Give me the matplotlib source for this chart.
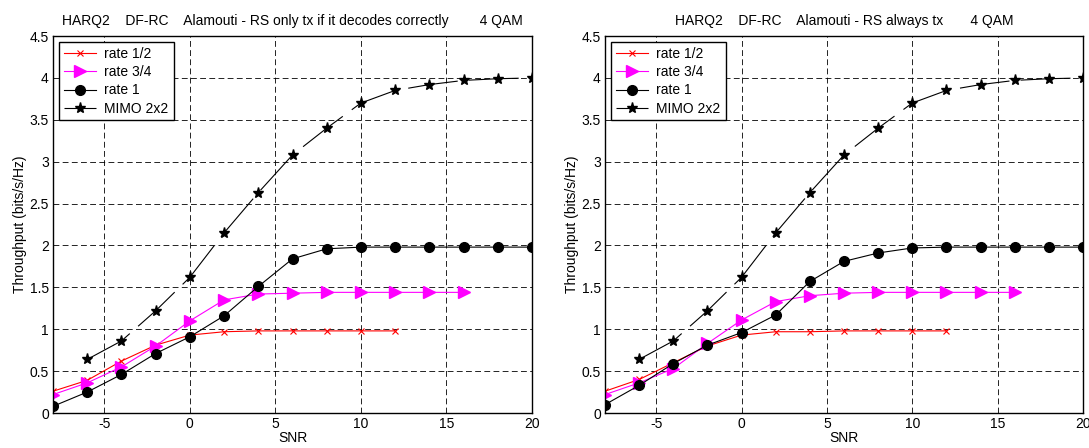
import matplotlib
matplotlib.use("Agg")
import matplotlib.pyplot as plt

plt.rcParams['font.family'] = ['Liberation Sans', 'DejaVu Sans']
plt.rcParams['font.size'] = 10
plt.rcParams['axes.unicode_minus'] = False

# ---------------- data ----------------
snr_r12 = [-8, -6, -4, -2, 0, 2, 4, 6, 8, 10, 12]
snr_r34 = [-8, -6, -4, -2, 0, 2, 4, 6, 8, 10, 12, 14, 16]
snr_r1 = [-8, -6, -4, -2, 0, 2, 4, 6, 8, 10, 12, 14, 16, 18, 20]
snr_mimo = [-6, -4, -2, 0, 2, 4, 6, 8, 10, 12, 14, 16, 18, 20]

left_r12 = [0.26, 0.39, 0.62, 0.81, 0.93, 0.97, 0.98, 0.98, 0.98, 0.98, 0.98]
left_r34 = [0.22, 0.36, 0.55, 0.80, 1.10, 1.35, 1.42, 1.43, 1.44, 1.44, 1.44, 1.44, 1.44]
left_r1 = [0.08, 0.25, 0.46, 0.71, 0.91, 1.16, 1.51, 1.84, 1.96, 1.98, 1.98, 1.98, 1.98, 1.98, 1.98]
left_mimo = [0.64, 0.86, 1.22, 1.62, 2.15, 2.63, 3.08, 3.40, 3.70, 3.85, 3.92, 3.97, 3.99, 4.00]

right_r12 = [0.26, 0.40, 0.60, 0.80, 0.93, 0.97, 0.97, 0.98, 0.98, 0.98, 0.98]
right_r34 = [0.22, 0.36, 0.53, 0.83, 1.11, 1.33, 1.40, 1.43, 1.44, 1.44, 1.44, 1.44, 1.44]
right_r1 = [0.10, 0.33, 0.59, 0.81, 0.96, 1.17, 1.57, 1.81, 1.91, 1.97, 1.98, 1.98, 1.98, 1.98, 1.98]
right_mimo = [0.64, 0.86, 1.22, 1.62, 2.15, 2.63, 3.08, 3.40, 3.70, 3.85, 3.92, 3.97, 3.99, 4.00]

titles = ["HARQ2    DF-RC    Alamouti - RS only tx if it decodes correctly        4 QAM",
          "HARQ2    DF-RC    Alamouti - RS always tx       4 QAM"]
labels = ["rate 1/2", "rate 3/4", "rate 1", "MIMO 2x2"]
xticks = [-5, 0, 5, 10, 15, 20]
yticks = [0, 0.5, 1, 1.5, 2, 2.5, 3, 3.5, 4, 4.5]
ytick_labels = ["0", "0.5", "1", "1.5", "2", "2.5", "3", "3.5", "4", "4.5"]

W, H = 1089, 448
fig = plt.figure(figsize=(W / 100, H / 100), dpi=100)

rects = [[53 / W, 35 / H, 479 / W, 377 / H],
         [605 / W, 35 / H, 478 / W, 377 / H]]

panels = [(left_r12, left_r34, left_r1, left_mimo),
          (right_r12, right_r34, right_r1, right_mimo)]

for rect, (r12, r34, r1, mimo), title in zip(rects, panels, titles):
    ax = fig.add_axes(rect)
    ax.plot(snr_r12, r12, color='red', lw=0.8, marker='x', ms=4, mew=0.8, label=labels[0])
    ax.plot(snr_r34, r34, color='magenta', lw=0.8, marker='>', ms=8, label=labels[1])
    ax.plot(snr_r1, r1, color='black', lw=0.8, marker='o', ms=7, label=labels[2])
    ax.plot(snr_mimo, mimo, color='black', lw=0.8, marker='*', ms=8,
            dashes=(45, 10), label=labels[3])
    ax.set_xlim(-8, 20)
    ax.set_ylim(0, 4.5)
    ax.set_xticks(xticks)
    ax.set_yticks(yticks)
    ax.set_yticklabels(ytick_labels)
    ax.tick_params(direction='in', length=0, labelsize=10, pad=3)
    ax.grid(True, color='black', lw=0.6, dashes=(7, 4))
    for s in ax.spines.values():
        s.set_linewidth(1.0)
    ax.set_xlabel("SNR", fontsize=10, labelpad=0)
    ax.set_ylabel("Throughput (bits/s/Hz)", fontsize=10, labelpad=2)
    ax.set_title(title, fontsize=10, pad=8)
    leg = ax.legend(loc='upper left', fontsize=10, fancybox=False, framealpha=1,
                    edgecolor='black', borderpad=0.35, labelspacing=0.3,
                    handlelength=2.3, handletextpad=0.6, borderaxespad=0.45)
    leg.get_frame().set_linewidth(1.0)

fig.savefig("out.png", dpi=100)
